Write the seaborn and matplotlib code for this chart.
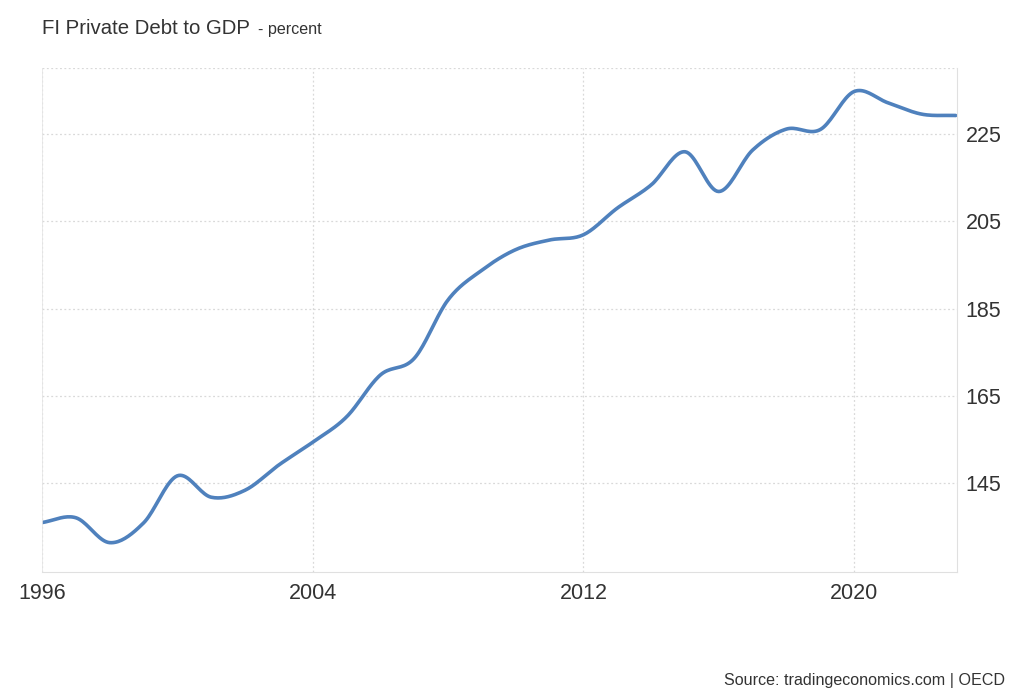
import numpy as np
import pandas as pd
import matplotlib
matplotlib.use("Agg")
import matplotlib.pyplot as plt
import seaborn as sns

# annual values
years = list(range(1996, 2024))
debt = [136.0, 137.1, 131.4, 135.9, 146.7, 141.8, 143.4, 149.2, 154.4, 160.2,
        169.8, 173.6, 187.0, 193.8, 198.5, 200.7, 201.9, 208.0, 213.3, 220.9,
        211.8, 221.3, 226.1, 226.0, 234.7, 232.1, 229.5, 229.2]
xticks = [1996, 2004, 2012, 2020]
yticks = [145, 165, 185, 205, 225]

data = pd.DataFrame({'year': years, 'value': debt})


# smooth the line for display (cubic hermite through the annual points)
def smooth(x, y, n=20):
    x = np.asarray(x, float)
    y = np.asarray(y, float)
    m = np.gradient(y, x)
    xs, ys = [], []
    for i in range(len(x) - 1):
        h = x[i + 1] - x[i]
        t = np.linspace(0, 1, n, endpoint=False)
        h00 = 2 * t**3 - 3 * t**2 + 1
        h10 = t**3 - 2 * t**2 + t
        h01 = -2 * t**3 + 3 * t**2
        h11 = t**3 - t**2
        xs.append(x[i] + t * h)
        ys.append(h00 * y[i] + h10 * h * m[i] + h01 * y[i + 1] + h11 * h * m[i + 1])
    xs.append([x[-1]])
    ys.append([y[-1]])
    return np.concatenate(xs), np.concatenate(ys)


sx, sy = smooth(data['year'], data['value'])
line = pd.DataFrame({'year': sx, 'value': sy})

sns.set_style('white')
plt.rcParams['font.family'] = ['Liberation Sans', 'DejaVu Sans']

fig = plt.figure(figsize=(10.24, 7), dpi=100)
ax = fig.add_axes([0.041, 0.183, 0.894, 0.72])

sns.lineplot(data=line, x='year', y='value', ax=ax, color='#4f81bd',
             linewidth=2.6, sort=False)

ax.set_xlim(1996, 2023.05)
ax.set_ylim(124.7, 240.1)
ax.set_xticks(xticks)
ax.set_xticklabels([str(t) for t in xticks])
ax.set_yticks(yticks)
ax.yaxis.tick_right()
ax.tick_params(axis='both', length=0, labelsize=15.5, colors='#333333')
ax.tick_params(axis='x', pad=8)
ax.tick_params(axis='y', pad=6)
ax.set_xlabel('')
ax.set_ylabel('')

ax.grid(True, color='#d9d9d9', linestyle=(0, (1.5, 2)), linewidth=0.9)
ax.axhline(240.1, color='#d9d9d9', linestyle=(0, (1.5, 2)), linewidth=0.9)
for s in ['top', 'left']:
    ax.spines[s].set_visible(False)
ax.spines['bottom'].set_color('#e0e0e0')
ax.spines['right'].set_color('#e0e0e0')
ax.axvline(1996, color='#e6e6e6', linewidth=1.2)

fig.text(0.041, 0.951, 'FI Private Debt to GDP', fontsize=14.7, color='#333333')
fig.text(0.252, 0.951, '- percent', fontsize=11.6, color='#333333')
fig.text(0.981, 0.022, 'Source: tradingeconomics.com | OECD', fontsize=11.6,
         color='#333333', ha='right')

fig.savefig('out.png', dpi=100)
